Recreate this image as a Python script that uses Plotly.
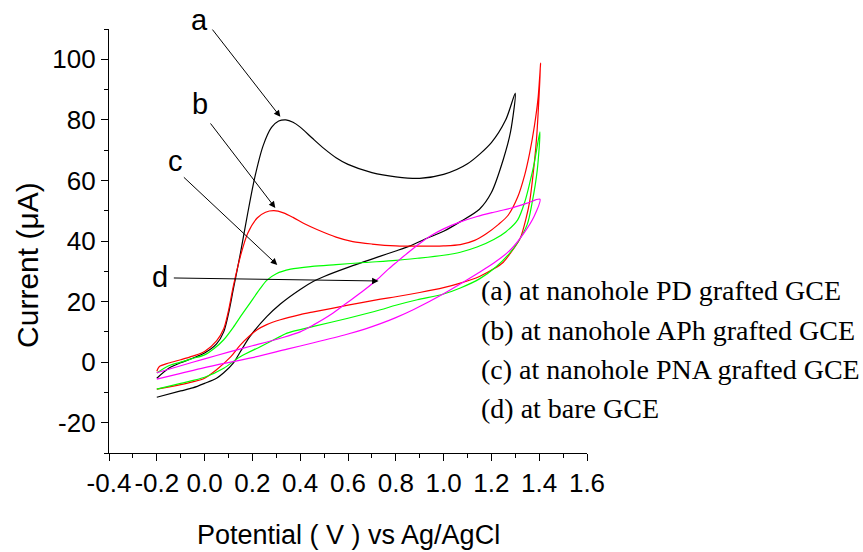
import plotly.graph_objects as go

# ---------------- data ----------------
# (a) nanohole PD grafted GCE  - black
a_x = [-0.2, -0.15, -0.1, -0.05, 0.0, 0.05, 0.08, 0.1, 0.12, 0.15, 0.18, 0.21, 0.245, 0.28, 0.31, 0.34,
       0.37, 0.4, 0.45, 0.5, 0.55, 0.6, 0.7, 0.8, 0.9, 1.0, 1.1, 1.2, 1.26, 1.3,
       1.28, 1.25, 1.2, 1.15, 1.07, 1.0, 0.93, 0.86, 0.8, 0.736, 0.6, 0.5, 0.456, 0.4, 0.317,
       0.26, 0.19, 0.15, 0.12, 0.08, 0.05, 0.0, -0.05, -0.1, -0.2]
a_y = [-5.3, -2.0, -0.2, 1.3, 3.0, 6.0, 10.0, 16.0, 24.0, 36.0, 49.0, 61.0, 71.5, 77.5, 79.6, 80.0,
       79.2, 77.6, 74.0, 70.5, 67.5, 65.3, 62.6, 61.2, 60.7, 62.0, 65.5, 72.5, 80.0, 88.8,
       76.0, 67.0, 56.0, 50.5, 46.4, 43.2, 40.9, 38.4, 36.7, 35.0, 31.3, 28.3, 26.7, 24.0, 19.2,
       15.0, 8.5, 3.5, -0.3, -3.5, -5.3, -7.0, -8.5, -9.5, -11.6]

# (b) nanohole APh grafted GCE - red
b_x = [-0.2, -0.19, -0.15, -0.1, -0.05, 0.0, 0.05, 0.08, 0.1, 0.12, 0.15, 0.18, 0.22, 0.255, 0.29,
       0.33, 0.37, 0.42, 0.47, 0.55, 0.62, 0.7, 0.8, 0.9, 1.0, 1.07, 1.13, 1.18, 1.23, 1.27, 1.31, 1.34,
       1.36, 1.38, 1.395, 1.406,
       1.39, 1.378, 1.36, 1.345, 1.32, 1.28, 1.25, 1.21, 1.15, 1.07, 1.0, 0.9, 0.8, 0.736, 0.6,
       0.456, 0.4, 0.317, 0.26, 0.22, 0.15, 0.11, 0.05, 0.0, -0.05, -0.1, -0.2]
b_y = [-3.0, -1.5, -0.3, 0.8, 2.0, 3.5, 7.0, 11.0, 17.0, 25.0, 35.0, 42.5, 47.6, 49.5, 50.0,
       49.3, 47.8, 45.6, 43.8, 41.3, 39.8, 39.0, 38.4, 38.3, 38.4, 38.8, 40.2, 42.5, 45.5, 48.5, 54.5, 62.0,
       69.0, 78.0, 87.0, 98.7,
       75.0, 64.6, 53.0, 47.5, 40.8, 36.0, 33.0, 30.8, 28.3, 26.1, 24.6, 23.0, 21.6, 20.8, 18.8,
       16.6, 15.7, 14.0, 12.4, 10.7, 5.7, 1.8, -2.5, -5.3, -6.5, -7.4, -8.9]

# (c) nanohole PNA grafted GCE - green
c_x = [-0.2, -0.15, -0.1, -0.05, 0.0, 0.04, 0.08, 0.12, 0.15, 0.19, 0.23, 0.26, 0.3, 0.36, 0.45,
       0.55, 0.67, 0.8, 0.89, 1.0, 1.07, 1.14, 1.21, 1.26, 1.31, 1.34, 1.36, 1.38, 1.403,
       1.392, 1.37, 1.35, 1.31, 1.28, 1.22, 1.15, 1.07, 1.0, 0.89, 0.8, 0.736, 0.6, 0.456, 0.345,
       0.317, 0.233, 0.149, 0.08, 0.0, -0.1, -0.2]
c_y = [-3.6, -1.2, 0.0, 1.2, 2.4, 4.5, 7.4, 11.5, 15.0, 19.5, 24.0, 27.0, 29.2, 30.7, 31.6,
       32.2, 32.9, 33.6, 34.3, 35.3, 36.3, 38.0, 40.5, 43.0, 47.0, 53.0, 59.0, 66.0, 76.0,
       63.5, 52.5, 45.5, 39.5, 36.3, 31.5, 27.5, 24.5, 22.5, 20.6, 18.8, 17.3, 14.5, 11.8, 9.6,
       8.5, 5.1, 1.8, -2.0, -5.0, -7.0, -8.9]

# (d) bare GCE - magenta
d_x = [-0.2, -0.1, 0.0, 0.1, 0.2, 0.317, 0.4, 0.456, 0.53, 0.596, 0.66, 0.722, 0.77, 0.806, 0.861, 0.9,
       0.95, 1.0, 1.07, 1.14, 1.21, 1.28, 1.35, 1.403,
       1.378, 1.336, 1.28, 1.21, 1.14, 1.0, 0.875, 0.8, 0.736, 0.67, 0.596, 0.456, 0.345, 0.2, 0.0,
       -0.1, -0.2]
d_y = [-3.5, -1.2, 1.1, 3.3, 5.4, 7.9, 10.0, 12.3, 15.8, 19.6, 23.3, 27.3, 30.8, 33.2, 36.8, 39.2,
       41.9, 44.0, 46.3, 48.1, 49.5, 50.8, 52.5, 53.8,
       48.0, 42.6, 37.1, 32.7, 29.2, 22.6, 17.4, 14.7, 12.7, 10.9, 9.2, 6.4, 4.3, 1.5, -1.8,
       -3.7, -5.6]

series_labels = ["(a) at nanohole PD grafted GCE",
                 "(b) at nanohole APh grafted GCE",
                 "(c) at nanohole PNA grafted GCE",
                 "(d) at bare GCE"]
curve_letters = ["a", "b", "c", "d"]

x_tickvals = [-0.4, -0.2, 0.0, 0.2, 0.4, 0.6, 0.8, 1.0, 1.2, 1.4, 1.6]
x_ticktext = ["-0.4", "-0.2", "0.0", "0.2", "0.4", "0.6", "0.8", "1.0", "1.2", "1.4", "1.6"]
y_tickvals = [-20, 0, 20, 40, 60, 80, 100]
y_ticktext = ["-20", "0", "20", "40", "60", "80", "100"]

x_title = "Potential ( V ) vs Ag/AgCl"
y_title = "Current (\u03bcA)"

# ---------------- figure ----------------
colors = ["#000000", "#FF0000", "#00FF00", "#FF00FF"]
fig = go.Figure()
for xs, ys, col, name in zip([a_x, b_x, c_x, d_x], [a_y, b_y, c_y, d_y], colors, series_labels):
    fig.add_trace(go.Scatter(x=xs, y=ys, mode="lines", name=name,
                             line=dict(color=col, width=1.2, shape="spline", smoothing=0.8),
                             showlegend=False))

tickfont = dict(family="Liberation Sans, Arial, sans-serif", size=26, color="black")
fig.update_xaxes(range=[-0.4, 1.6], tickvals=x_tickvals, ticktext=x_ticktext,
                 showline=True, linecolor="black", linewidth=1.3, mirror=False,
                 ticks="outside", ticklen=7, tickwidth=1.3, tickcolor="black",
                 minor=dict(dtick=0.1, tick0=0, ticks="outside", ticklen=4, tickwidth=1.3, tickcolor="black"),
                 showgrid=False, zeroline=False, tickfont=tickfont, ticklabelstandoff=0)
fig.update_yaxes(range=[-30, 110], tickvals=y_tickvals, ticktext=y_ticktext,
                 showline=True, linecolor="black", linewidth=1.3, mirror=False,
                 ticks="outside", ticklen=7, tickwidth=1.3, tickcolor="black",
                 minor=dict(dtick=10, tick0=0, ticks="outside", ticklen=4, tickwidth=1.3, tickcolor="black"),
                 showgrid=False, zeroline=False, tickfont=tickfont)

annots = []
# axis titles
annots.append(dict(text=x_title, xref="paper", yref="paper", x=0.502, y=-0.194,
                   xanchor="center", yanchor="middle", showarrow=False,
                   font=dict(family="Liberation Sans, Arial, sans-serif", size=27, color="black")))
annots.append(dict(text=y_title, xref="paper", yref="paper", x=-0.172, y=0.443,
                   xanchor="center", yanchor="middle", showarrow=False, textangle=-90,
                   font=dict(family="Liberation Sans, Arial, sans-serif", size=30, color="black")))
# legend-like text
for i, lab in enumerate(series_labels):
    annots.append(dict(text=lab, xref="paper", yref="paper", x=0.774, y=[0.384, 0.290, 0.196, 0.106][i],
                       xanchor="left", yanchor="middle", showarrow=False,
                       font=dict(family="Liberation Serif, Times New Roman, serif", size=28, color="black")))
# curve letters (paper coords)
letter_pos = [(0.190, 1.021), (0.190, 0.823), (0.140, 0.689), (0.107, 0.415)]
for (lx, ly), t in zip(letter_pos, curve_letters):
    annots.append(dict(text=t, x=lx, y=ly, xref="paper", yref="paper", showarrow=False,
                       xanchor="center", yanchor="middle",
                       font=dict(family="Liberation Sans, Arial, sans-serif", size=29, color="black")))
# arrows (head, tail) in data coords
arrows = [((0.317, 81.0), (0.028, 110.3)),
          ((0.296, 50.9), (0.020, 79.3)),
          ((0.304, 32.1), (-0.093, 61.5)),
          ((0.728, 26.8), (-0.135, 27.8))]
for (hx, hy), (tx, ty) in arrows:
    annots.append(dict(text="", x=hx, y=hy, ax=tx, ay=ty, xref="x", yref="y", axref="x", ayref="y",
                       showarrow=True, arrowhead=2, arrowsize=1.3, arrowwidth=1, arrowcolor="black"))

fig.update_layout(width=863, height=552, margin=dict(l=109, r=276, t=29, b=99),
                  paper_bgcolor="white", plot_bgcolor="white", annotations=annots)

fig.write_html("out.html")
